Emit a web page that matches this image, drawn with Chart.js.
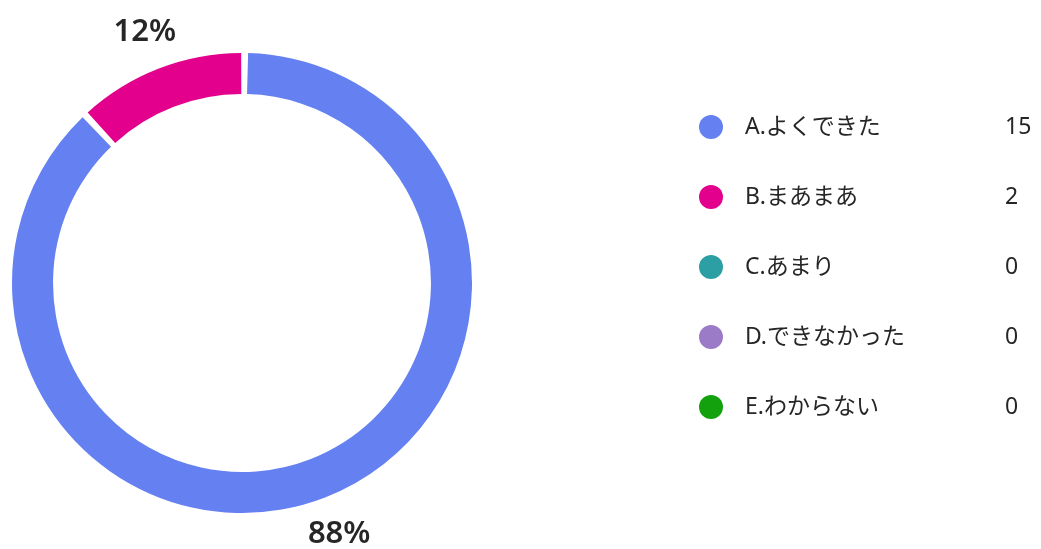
<!DOCTYPE html>
<html>
<head>
<meta charset="utf-8">
<script src="https://cdn.jsdelivr.net/npm/chart.js@4"></script>
<style>
    html, body { margin: 0; padding: 0; background: #ffffff; }
    #wrap { width: 1041px; height: 549px; position: relative; }
</style>
</head>
<body>
<div id="wrap"><canvas id="pieChart"></canvas></div>
<script>
const categories = ['A.よくできた', 'B.まあまあ', 'C.あまり', 'D.できなかった', 'E.わからない'];
const counts = [15, 2, 0, 0, 0];
const sliceColors = ['#6580F0', '#E3008C', '#2C9FA4', '#9B7BC8', '#13A10E'];

const TEXT_COLOR = '#262626';
const FONT_FAMILY = '"Noto Sans", "Noto Sans CJK JP", sans-serif';

// percent labels outside each slice
const percentLabels = {
    id: 'percentLabels',
    afterDatasetsDraw(chart) {
        const ctx = chart.ctx;
        const meta = chart.getDatasetMeta(0);
        const total = counts.reduce((a, b) => a + b, 0);
        ctx.save();
        ctx.font = '600 31px ' + FONT_FAMILY;
        ctx.fillStyle = TEXT_COLOR;
        ctx.textAlign = 'center';
        ctx.textBaseline = 'middle';
        meta.data.forEach((arc, i) => {
            if (!counts[i]) return;
            const mid = (arc.startAngle + arc.endAngle) / 2;
            const r = arc.outerRadius + 41;
            const x = arc.x + Math.cos(mid) * r;
            const y = arc.y + Math.sin(mid) * r;
            const pct = Math.round(counts[i] / total * 100);
            ctx.fillText(pct + '%', x, y);
        });
        ctx.restore();
    }
};

// legend on the right with counts column
const sideLegend = {
    id: 'sideLegend',
    afterDraw(chart) {
        const ctx = chart.ctx;
        const startY = 127;
        const rowGap = 70;
        ctx.save();
        ctx.textBaseline = 'middle';
        categories.forEach((name, i) => {
            const y = startY + i * rowGap;
            ctx.beginPath();
            ctx.fillStyle = sliceColors[i];
            ctx.arc(711, y, 12, 0, Math.PI * 2);
            ctx.fill();
            ctx.fillStyle = TEXT_COLOR;
            ctx.font = '23px ' + FONT_FAMILY;
            ctx.textAlign = 'left';
            ctx.fillText(name, 745, y);
            ctx.fillText(String(counts[i]), 1005, y);
        });
        ctx.restore();
    }
};

new Chart(document.getElementById('pieChart'), {
    type: 'doughnut',
    data: {
        labels: categories,
        datasets: [{
            data: counts,
            backgroundColor: sliceColors,
            borderWidth: 0,
            spacing: 4,
            hoverOffset: 0
        }]
    },
    options: {
        responsive: true,
        maintainAspectRatio: false,
        animation: false,
        cutout: '82%',
        layout: {
            padding: { left: 12, top: 53, right: 569, bottom: 36 }
        },
        plugins: {
            legend: { display: false },
            tooltip: { enabled: false }
        }
    },
    plugins: [percentLabels, sideLegend]
});
</script>
</body>
</html>
